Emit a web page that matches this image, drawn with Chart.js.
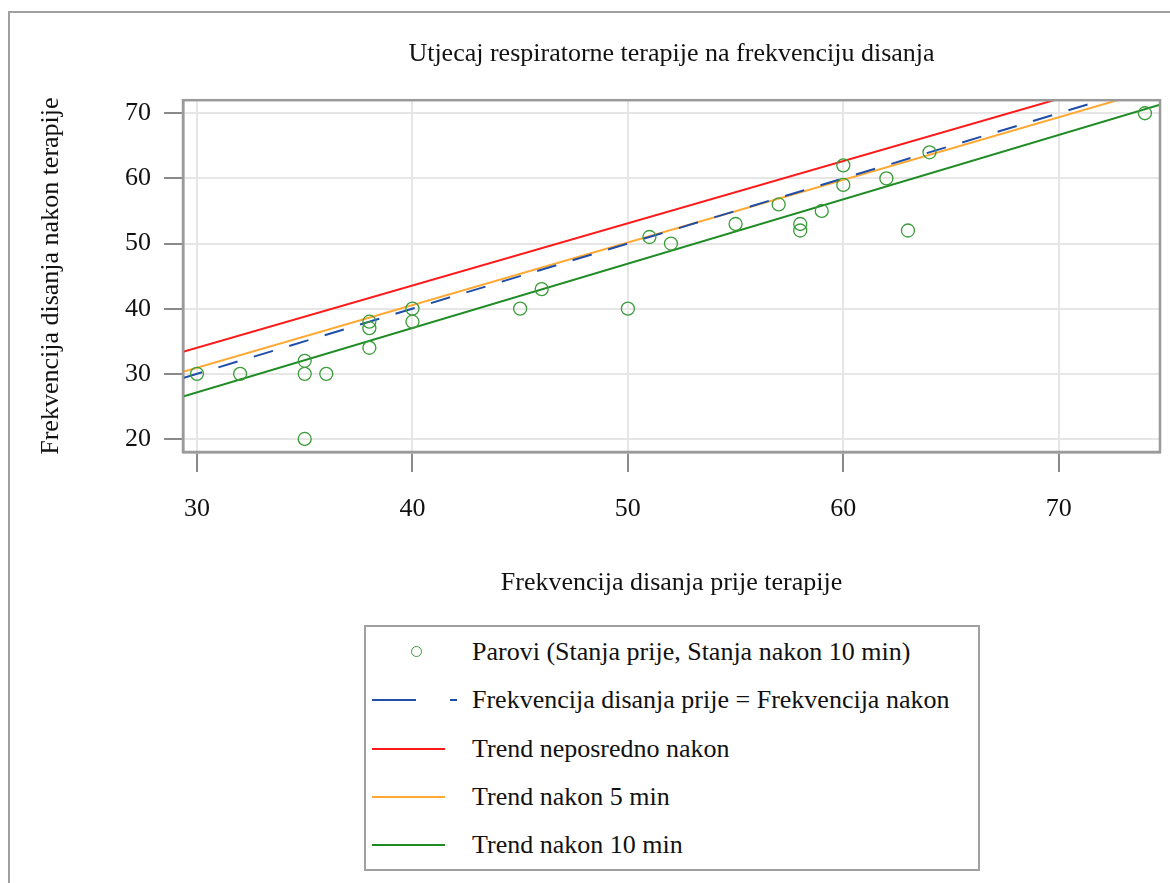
<!DOCTYPE html>
<html>
<head>
<meta charset="utf-8">
<script src="https://cdn.jsdelivr.net/npm/chart.js@4.4.1/dist/chart.umd.min.js"></script>
<style>
    body { margin: 0; background: #fff; font-family: "Liberation Serif", "Times New Roman", serif; }
    #frame { position: absolute; left: 8px; top: 11px; width: 1170px; height: 880px; border-top: 2px solid #a0a0a0; border-left: 2px solid #a0a0a0; }
    #chartBox { position: absolute; left: 0; top: 0; width: 1170px; height: 620px; }
    #legend { position: absolute; left: 364px; top: 625px; width: 612px; height: 241px; border: 2px solid #a0a0a0; padding-top: 1px; }
    .row { position: relative; height: 48.3px; }
    .row span { position: absolute; left: 106px; top: 50%; transform: translateY(-50%); font-size: 26px; color: #111; white-space: nowrap; }
    .sample { position: absolute; left: 6px; top: 50%; height: 2px; margin-top: -1px; width: 73px; }
    .dot { position: absolute; left: 45px; top: 50%; width: 9px; height: 9px; margin-top: -6px; border: 1.4px solid #3a9d3a; border-radius: 50%; }
</style>
</head>
<body>
<div id="frame"></div>
<div id="chartBox"><canvas id="chart"></canvas></div>
<div id="legend"></div>
<script>
// breathing rate before therapy and 10 min after
const beforeVals = [30, 32, 35, 35, 35, 36, 38, 38, 38, 40, 40, 45, 46, 50, 51, 52, 55, 57, 58, 58, 59, 60, 60, 62, 63, 64, 74];
const afterVals  = [30, 30, 32, 30, 20, 30, 38, 37, 34, 40, 38, 40, 43, 40, 51, 50, 53, 56, 53, 52, 55, 62, 59, 60, 52, 64, 70];

// end points of the reference and trend lines
const lineX     = [29.35, 74.7];
const identityY = [29.35, 74.7];
const trendNowY = [33.4, 76.7];
const trend5Y   = [30.3, 73.9];
const trend10Y  = [26.5, 71.3];

const xTicks = [30, 40, 50, 60, 70];
const yTicks = [20, 30, 40, 50, 60, 70];

const labels = [
    'Parovi (Stanja prije,  Stanja nakon 10 min)',
    'Frekvencija disanja prije = Frekvencija nakon',
    'Trend neposredno nakon',
    'Trend nakon 5 min',
    'Trend nakon 10 min'
];
const colors = ['#3a9d3a', '#1f4ea8', '#ff1a1a', '#ffa832', '#1f8b24'];

const FONT = '"Liberation Serif", "Times New Roman", serif';

function toPoints(xs, ys) {
    return xs.map((x, i) => ({ x: x, y: ys[i] }));
}

function lineSet(label, ys, color, dash, order) {
    return {
        type: 'line',
        label: label,
        data: toPoints(lineX, ys),
        borderColor: color,
        borderWidth: 2,
        borderDash: dash,
        pointRadius: 0,
        fill: false,
        order: order
    };
}

const plotFrame = {
    id: 'plotFrame',
    afterDraw(chart) {
        const a = chart.chartArea;
        const ctx = chart.ctx;
        ctx.save();
        ctx.strokeStyle = '#9a9a9a';
        ctx.lineWidth = 2.5;
        ctx.strokeRect(a.left, a.top, a.right - a.left, a.bottom - a.top);
        ctx.restore();
    }
};

document.addEventListener('DOMContentLoaded', () => {
    const ctx = document.getElementById('chart').getContext('2d');

    new Chart(ctx, {
        type: 'scatter',
        data: {
            datasets: [
                {
                    label: labels[0],
                    data: toPoints(beforeVals, afterVals),
                    borderColor: colors[0],
                    backgroundColor: 'rgba(0,0,0,0)',
                    borderWidth: 1.3,
                    pointRadius: 6.5,
                    order: 0
                },
                lineSet(labels[1], identityY, colors[1], [20, 17], 1),
                lineSet(labels[2], trendNowY, colors[2], [], 2),
                lineSet(labels[3], trend5Y, colors[3], [], 3),
                lineSet(labels[4], trend10Y, colors[4], [], 4)
            ]
        },
        options: {
            responsive: true,
            maintainAspectRatio: false,
            animation: false,
            layout: { padding: { left: 0, right: 10, top: 0, bottom: 0 } },
            plugins: {
                legend: { display: false },
                tooltip: { enabled: false },
                title: {
                    display: true,
                    fullSize: false,
                    text: 'Utjecaj respiratorne terapije na frekvenciju disanja',
                    color: '#111',
                    font: { family: FONT, size: 26, weight: 'normal' },
                    padding: { top: 39, bottom: 30 }
                }
            },
            scales: {
                x: {
                    type: 'linear',
                    min: lineX[0],
                    max: lineX[1],
                    afterFit: s => { s.height = 168; },
                    afterBuildTicks: s => { s.ticks = xTicks.map(v => ({ value: v })); },
                    ticks: { color: '#111', padding: 22, font: { family: FONT, size: 26 } },
                    grid: { color: '#e6e6e6', lineWidth: 2, tickLength: 20, tickColor: '#8a8a8a', tickWidth: 2 },
                    border: { color: '#9a9a9a', width: 2.5 },
                    title: {
                        display: true,
                        text: 'Frekvencija disanja prije terapije',
                        color: '#111',
                        font: { family: FONT, size: 26 },
                        padding: { top: 0, bottom: 21 }
                    }
                },
                y: {
                    type: 'linear',
                    min: 18,
                    max: 72,
                    afterFit: s => { s.width = 183; },
                    afterBuildTicks: s => { s.ticks = yTicks.map(v => ({ value: v })); },
                    ticks: { color: '#111', padding: 13, font: { family: FONT, size: 26 } },
                    grid: { color: '#e6e6e6', lineWidth: 2, tickLength: 19, tickColor: '#8a8a8a', tickWidth: 2 },
                    border: { color: '#9a9a9a', width: 2.5 },
                    title: {
                        display: true,
                        text: 'Frekvencija disanja nakon terapije',
                        color: '#111',
                        font: { family: FONT, size: 26 },
                        padding: { top: 36, bottom: 0 }
                    }
                }
            }
        },
        plugins: [plotFrame]
    });

    // legend built as html rows
    const legend = document.getElementById('legend');
    legend.innerHTML = labels.map((text, i) => {
        let mark;
        if (i === 0) {
            mark = '<div class="dot"></div>';
        } else if (i === 1) {
            mark = `<div class="sample" style="width:85px;background:linear-gradient(to right, ${colors[1]} 0 44px, transparent 44px 78px, ${colors[1]} 78px 85px)"></div>`;
        } else {
            mark = `<div class="sample" style="background:${colors[i]}"></div>`;
        }
        return `<div class="row">${mark}<span>${text}</span></div>`;
    }).join('');
});
</script>
</body>
</html>
